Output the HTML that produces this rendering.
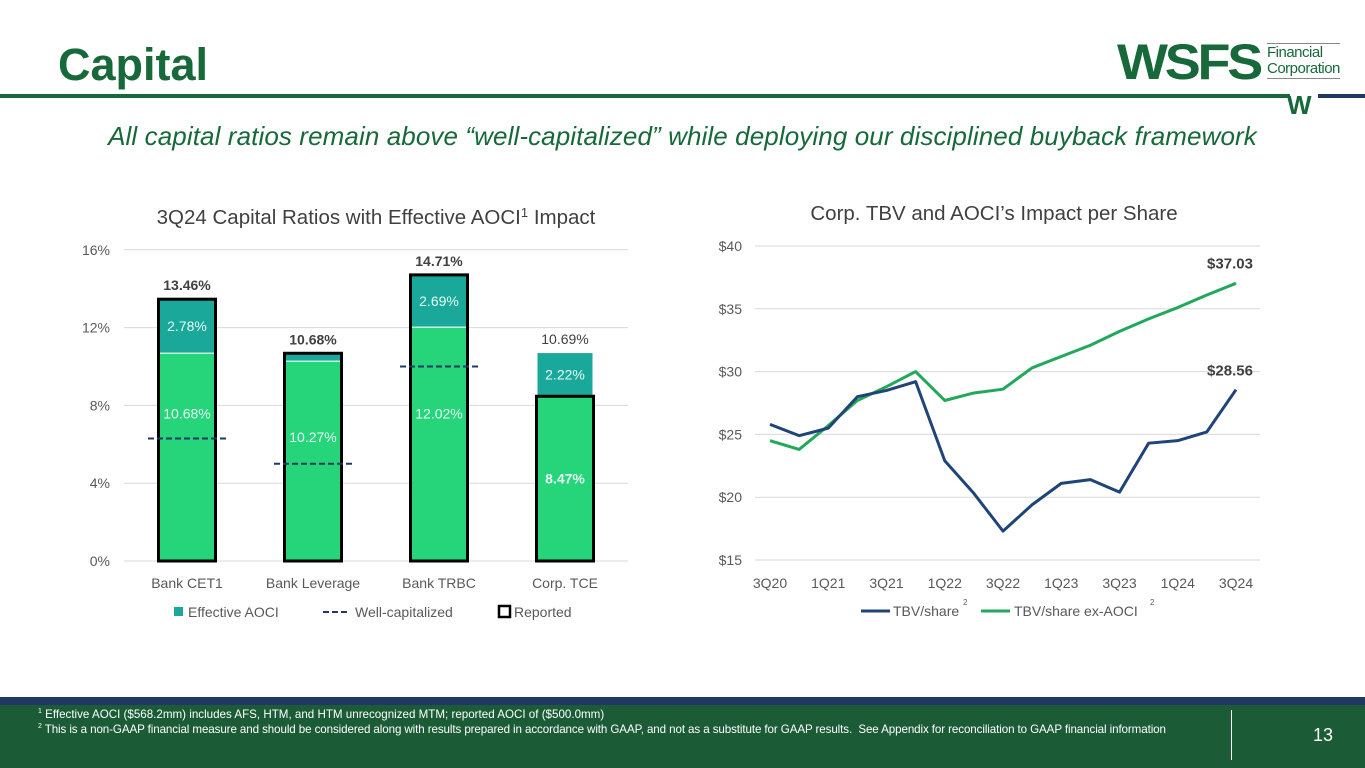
<!DOCTYPE html>
<html><head><meta charset="utf-8">
<style>
body{margin:0;width:1365px;height:768px;overflow:hidden;background:#fff;font-family:"Liberation Sans",sans-serif;position:relative}
.abs{position:absolute}
</style></head>
<body>
<div class="abs" style="left:58px;top:39px;font-size:45px;font-weight:bold;color:#17693a">Capital</div>
<div class="abs" style="left:0;top:94px;width:1290px;height:4px;background:#17693a"></div>
<div class="abs" style="left:1318px;top:94px;width:47px;height:4px;background:#1f3864"></div>
<div class="abs" style="left:1117px;top:40px;width:240px;height:80px">
 <div class="abs" style="left:0;top:-7px;font-size:50px;font-weight:900;color:#17693a;letter-spacing:-3px;transform:scaleX(1.08);transform-origin:left">WSFS</div>
 <div class="abs" style="left:150px;top:3px;font-size:15px;line-height:16px;color:#17693a;border-top:1px solid #888;border-bottom:1px solid #888;padding:1px 0;letter-spacing:-0.5px">Financial<br>Corporation</div>
 <div class="abs" style="left:170px;top:50px;font-size:26px;font-weight:900;color:#17693a">W</div>
</div>
<div class="abs" style="left:0;width:1365px;top:121px;text-align:center;font-size:26px;font-style:italic;color:#17693a;letter-spacing:0.1px">All capital ratios remain above “well-capitalized” while deploying our disciplined buyback framework</div>

<svg class="abs" style="left:0;top:0" width="1365" height="690">
<g id="left"></g><g id="right"></g>
</svg>

<div class="abs" style="left:0;top:697px;width:1365px;height:8px;background:#1f3864"></div>
<div class="abs" style="left:0;top:705px;width:1365px;height:63px;background:#1b5c37;color:#fff;font-size:11.6px">
 <div class="abs" style="left:38px;top:3px"><sup style="font-size:7px">1</sup> Effective AOCI ($568.2mm) includes AFS, HTM, and HTM unrecognized MTM; reported AOCI of ($500.0mm)</div>
 <div class="abs" style="left:38px;top:18px;letter-spacing:-0.1px"><sup style="font-size:7px">2</sup> This is a non-GAAP financial measure and should be considered along with results prepared in accordance with GAAP, and not as a substitute for GAAP results.&nbsp; See Appendix for reconciliation to GAAP financial information</div>
 <div class="abs" style="left:1231px;top:5px;width:1px;height:50px;background:#fff"></div>
 <div class="abs" style="left:1313px;top:20px;font-size:18px">13</div>
</div>

<script>
const barCats=["Bank CET1","Bank Leverage","Bank TRBC","Corp. TCE"];
const baseVals=[10.68,10.27,12.02,8.47];
const aociVals=[2.78,0.41,2.69,2.22];
const reportedVals=[13.46,10.68,14.71,8.47];
const wellCap=[6.3,5.0,10.0,null];
const totalLabels=["13.46%","10.68%","14.71%","10.69%"];
const yTicksL=[0,4,8,12,16];

const lineCats=["3Q20","4Q20","1Q21","2Q21","3Q21","4Q21","1Q22","2Q22","3Q22","4Q22","1Q23","2Q23","3Q23","4Q23","1Q24","2Q24","3Q24"];
const tbv=[25.8,24.9,25.5,28.0,28.5,29.2,22.9,20.3,17.3,19.4,21.1,21.4,20.4,24.3,24.5,25.2,28.56];
const tbvEx=[24.5,23.8,25.7,27.7,28.8,30.0,27.7,28.3,28.6,30.3,31.2,32.1,33.2,34.2,35.1,36.1,37.03];
const yTicksR=[15,20,25,30,35,40];

const NS="http://www.w3.org/2000/svg";
function mk(p,t,a,txt){const e=document.createElementNS(NS,t);for(const k in a)e.setAttribute(k,a[k]);if(txt!=null)e.textContent=txt;p.appendChild(e);return e;}
const F='"Liberation Sans",sans-serif';

// Left chart
const L=document.getElementById('left');
const lx0=124,band=126,ly=v=>561-v*19.45;
let t=mk(L,'text',{x:376,y:224,'text-anchor':'middle','font-size':20.5,fill:'#404040','font-family':F},'3Q24 Capital Ratios with Effective AOCI');

mk(t,'tspan',{'baseline-shift':'super','font-size':13},'1');mk(t,'tspan',{},' Impact');
yTicksL.forEach(v=>{
 const g=mk(L,'line',{x1:lx0,x2:628,y1:ly(v),y2:ly(v),stroke:'#d9d9d9','stroke-width':1});
 
 const l=mk(L,'text',{x:110,y:ly(v)+5,'text-anchor':'end','font-size':14,fill:'#595959','font-family':F},v+'%');
 
});
barCats.forEach((c,i)=>{
 const cx=lx0+band*(i+0.5),w=55;
 const b=mk(L,'rect',{x:cx-w/2,y:ly(baseVals[i]),width:w,height:ly(0)-ly(baseVals[i]),fill:'#26d47a'});
 
 const a=mk(L,'rect',{x:cx-w/2,y:ly(baseVals[i]+aociVals[i]),width:w,height:ly(baseVals[i])-ly(baseVals[i]+aociVals[i]),fill:'#1aa89a'});
 
 mk(L,'line',{x1:cx-w/2,x2:cx+w/2,y1:ly(baseVals[i]),y2:ly(baseVals[i]),stroke:'#c8f5dc','stroke-width':1.5});
 const r=mk(L,'rect',{x:cx-w/2-1,y:ly(reportedVals[i]),width:w+2,height:ly(0)-ly(reportedVals[i]),fill:'none',stroke:'#000','stroke-width':3});
 
 if(wellCap[i]!=null){const d=mk(L,'line',{x1:cx-39,x2:cx+39,y1:ly(wellCap[i]),y2:ly(wellCap[i]),stroke:'#1f3864','stroke-width':2,'stroke-dasharray':'6,3'});
 }
 const tot=baseVals[i]+aociVals[i];
 const tl=mk(L,'text',{x:cx,y:ly(tot)-9,'text-anchor':'middle','font-size':14,'font-weight':i<3?'bold':'normal',fill:'#404040','font-family':F},totalLabels[i]);
 
 if(aociVals[i]>1){const al=mk(L,'text',{x:cx,y:(ly(tot)+ly(baseVals[i]))/2+5,'text-anchor':'middle','font-size':14,fill:'#e8fff4','font-family':F},aociVals[i].toFixed(2)+'%');
 }
 const by=i==3?ly(baseVals[i])/2+ly(0)/2+5:[ly(baseVals[i]*0.71),ly(baseVals[i]*0.62),ly(baseVals[i]*0.63)][i]+5;
 const bl=mk(L,'text',{x:cx,y:by,'text-anchor':'middle','font-size':14,'font-weight':i==3?'bold':'normal',fill:'#e8fff4','font-family':F},baseVals[i].toFixed(2)+'%');
 
 const xl=mk(L,'text',{x:cx,y:588,'text-anchor':'middle','font-size':14,fill:'#595959','font-family':F},c);
 
});
// left legend
let lg=mk(L,'rect',{x:174,y:607,width:9,height:9,fill:'#1aa89a'});
mk(L,'text',{x:188,y:617,'font-size':14,fill:'#595959','font-family':F},'Effective AOCI');
lg=mk(L,'line',{x1:323,x2:350,y1:612,y2:612,stroke:'#1f3864','stroke-width':2,'stroke-dasharray':'6,3'});
mk(L,'text',{x:355,y:617,'font-size':14,fill:'#595959','font-family':F},'Well-capitalized');
lg=mk(L,'rect',{x:499,y:606,width:11,height:11,fill:'none',stroke:'#000','stroke-width':2.5});
mk(L,'text',{x:514,y:617,'font-size':14,fill:'#595959','font-family':F},'Reported');

// Right chart
const R=document.getElementById('right');
const rx=i=>770+i*29.125,ry=v=>560-(v-15)*12.56;
t=mk(R,'text',{x:994,y:220,'text-anchor':'middle','font-size':20.5,fill:'#404040','font-family':F},'Corp. TBV and AOCI’s Impact per Share');

yTicksR.forEach(v=>{
 const g=mk(R,'line',{x1:755,x2:1260,y1:ry(v),y2:ry(v),stroke:'#d9d9d9','stroke-width':1});
 
 const l=mk(R,'text',{x:742,y:ry(v)+5,'text-anchor':'end','font-size':14,fill:'#595959','font-family':F},'$'+v);
 
});
lineCats.forEach((c,i)=>{if(i%2==0){const l=mk(R,'text',{x:rx(i),y:588,'text-anchor':'middle','font-size':14,fill:'#595959','font-family':F},c);
 }});
function line(vals,col,name){const p=mk(R,'polyline',{points:vals.map((v,i)=>rx(i)+','+ry(v)).join(' '),fill:'none',stroke:col,'stroke-width':3,'stroke-linejoin':'round'});
 }
line(tbvEx,'#22a85a','tbv-ex-aoci-line');
line(tbv,'#1f4478','tbv-line');
let e=mk(R,'text',{x:rx(16)-6,y:ry(tbvEx[16])-15,'text-anchor':'middle','font-size':15,'font-weight':'bold',fill:'#404040','font-family':F},'$'+tbvEx[16].toFixed(2));

e=mk(R,'text',{x:rx(16)-6,y:ry(tbv[16])-14,'text-anchor':'middle','font-size':15,'font-weight':'bold',fill:'#404040','font-family':F},'$'+tbv[16].toFixed(2));

lg=mk(R,'line',{x1:861,x2:890,y1:611,y2:611,stroke:'#1f4478','stroke-width':3});
mk(R,'text',{x:893,y:616,'font-size':14,fill:'#595959','font-family':F},'TBV/share');
mk(R,'text',{x:963,y:605,'font-size':8,fill:'#595959','font-family':F},'2');
lg=mk(R,'line',{x1:981,x2:1010,y1:611,y2:611,stroke:'#22a85a','stroke-width':3});
mk(R,'text',{x:1014,y:616,'font-size':14,fill:'#595959','font-family':F},'TBV/share ex-AOCI');
mk(R,'text',{x:1150,y:605,'font-size':8,fill:'#595959','font-family':F},'2');
</script>
</body></html>
